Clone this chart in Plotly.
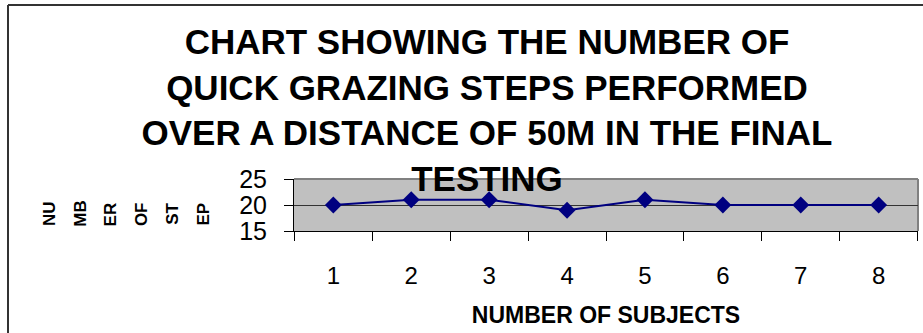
import plotly.graph_objects as go

subjects = ["1", "2", "3", "4", "5", "6", "7", "8"]
steps = [20, 21, 21, 19, 21, 20, 20, 20]
y_ticks = [15, 20, 25]
title_lines = ["CHART SHOWING THE NUMBER OF", "QUICK GRAZING STEPS PERFORMED",
               "OVER A DISTANCE OF 50M IN THE FINAL", "TESTING"]
y_title_parts = ["NU", "MB", "ER", "OF", "ST", "EP"]
x_title = "NUMBER OF SUBJECTS"

W, H = 923, 333
L, R, T, B = 294, 5, 179, 102
pw, ph = W - L - R, H - T - B

def px_x(px):
    return (px - L) / pw

def px_y(py):
    return (H - B - py) / ph

FONT = "Arial, Liberation Sans, sans-serif"

fig = go.Figure()
fig.add_trace(go.Scatter(
    x=subjects, y=steps, mode="lines+markers",
    line=dict(color="#000080", width=2),
    marker=dict(symbol="diamond", size=13, color="#000080"),
    showlegend=False, cliponaxis=False,
))

annotations = []
for i, part in enumerate(y_title_parts):
    annotations.append(dict(
        text="<b>%s</b>" % part, xref="paper", yref="paper",
        x=px_x(49 + i * 30.7), y=px_y(214), xanchor="center", yanchor="middle",
        textangle=-90, showarrow=False,
        font=dict(family=FONT, size=17, color="black"),
    ))

fig.update_layout(
    width=W, height=H,
    margin=dict(l=L, r=R, t=T, b=B, autoexpand=False),
    paper_bgcolor="white", plot_bgcolor="#C0C0C0",
    title=dict(
        text="<b>" + "<br>".join(title_lines) + "</b>",
        x=487 / W, xref="container", xanchor="center",
        y=1 - 54 / H, yref="container", yanchor="top",
        font=dict(family=FONT, size=35, color="black"),
        automargin=False,
    ),
    xaxis=dict(
        type="category", tickson="boundaries", ticks="outside", ticklen=9,
        tickcolor="black", showline=True, linecolor="black", linewidth=1,
        showgrid=False, mirror=False, automargin=False,
        tickfont=dict(family=FONT, size=24, color="black"),
        ticklabelstandoff=23,
        title=dict(text="<b>%s</b>" % x_title, standoff=19,
                   font=dict(family=FONT, size=23, color="black")),
    ),
    yaxis=dict(
        range=[15, 25], tickvals=y_ticks, ticks="outside", ticklen=9,
        tickcolor="black", showline=True, linecolor="black", linewidth=1,
        showgrid=True, gridcolor="#333333", gridwidth=1, zeroline=False,
        automargin=False,
        tickfont=dict(family=FONT, size=25, color="black"),
        ticklabelstandoff=12,
    ),
    annotations=annotations,
    shapes=[
        dict(type="line", xref="paper", yref="paper", x0=0, x1=1,
             y0=1, y1=1, line=dict(color="#808080", width=2), layer="below"),
        dict(type="line", xref="paper", yref="paper", x0=1, x1=1,
             y0=0, y1=1, line=dict(color="#808080", width=2), layer="below"),
        dict(type="line", xref="paper", yref="paper", x0=px_x(8), x1=px_x(935),
             y0=px_y(5), y1=px_y(5), line=dict(color="#333333", width=2)),
        dict(type="line", xref="paper", yref="paper", x0=px_x(8), x1=px_x(8),
             y0=px_y(5), y1=px_y(345), line=dict(color="#333333", width=2)),
    ],
)

fig.write_html("out.html", config={"displayModeBar": False},
               post_script="document.body.style.margin='0';")
